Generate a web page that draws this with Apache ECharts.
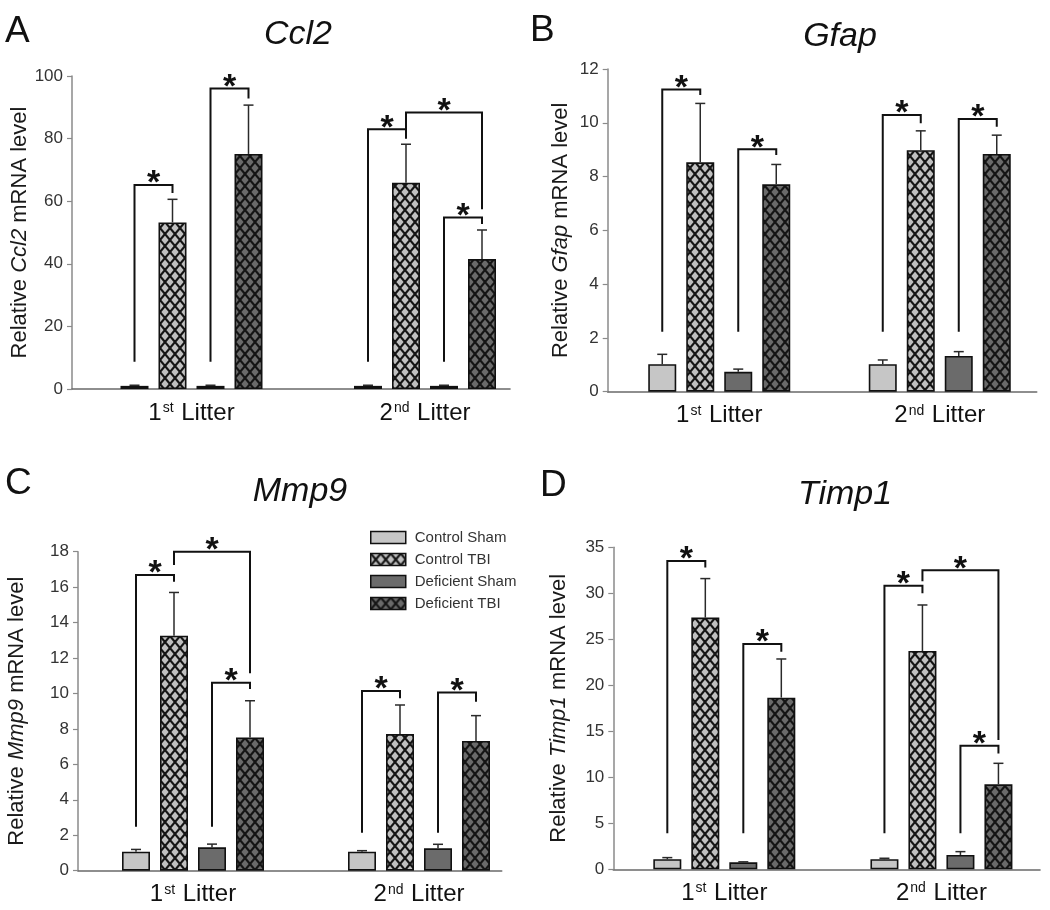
<!DOCTYPE html>
<html>
<head>
<meta charset="utf-8">
<script src="https://cdn.jsdelivr.net/npm/echarts@6/dist/echarts.min.js"></script>
<style>html,body{margin:0;padding:0;background:#fff;}#c{width:1050px;height:910px;}</style>
</head>
<body>
<div id="c"></div>
<script>
// ---------- data ----------
const categories = ['1st Litter', '2nd Litter'];
const seriesNames = ['Control Sham', 'Control TBI', 'Deficient Sham', 'Deficient TBI'];

// Ccl2 (panel A)
const ccl2ControlSham = [1.0, 1.0];
const ccl2ControlTBI = [53.2, 65.9];
const ccl2DeficientSham = [1.0, 1.0];
const ccl2DeficientTBI = [75.1, 41.5];
const ccl2SemControlSham = [0.2, 0.2];
const ccl2SemControlTBI = [7.4, 12.3];
const ccl2SemDeficientSham = [0.2, 0.2];
const ccl2SemDeficientTBI = [15.6, 9.3];
// [group, fromBar, toBar, leftBottom, top, rightBottom]
const ccl2Brackets = [[0,0,1,8.7,65.2,62.6],[0,2,3,8.7,96,92.8],[1,0,1,8.7,83,80],[1,1,3,80,88.3,57.4],[1,2,3,8.7,54.8,52.7]];
const ccl2Ticks = [0, 20, 40, 60, 80, 100];

// Gfap (panel B)
const gfapControlSham = [1.02, 1.02];
const gfapControlTBI = [8.53, 8.98];
const gfapDeficientSham = [0.74, 1.33];
const gfapDeficientTBI = [7.71, 8.84];
const gfapSemControlSham = [0.37, 0.16];
const gfapSemControlTBI = [2.19, 0.72];
const gfapSemDeficientSham = [0.10, 0.16];
const gfapSemDeficientTBI = [0.74, 0.70];
const gfapBrackets = [[0,0,1,2.23,11.24,11.03],[0,2,3,2.23,9.02,8.8],[1,0,1,2.23,10.29,9.98],[1,2,3,2.23,10.14,9.85]];
const gfapTicks = [0, 2, 4, 6, 8, 10, 12];

// Mmp9 (panel C)
const mmp9ControlSham = [1.07, 1.07];
const mmp9ControlTBI = [13.26, 7.71];
const mmp9DeficientSham = [1.32, 1.26];
const mmp9DeficientTBI = [7.52, 7.32];
const mmp9SemControlSham = [0.13, 0.06];
const mmp9SemControlTBI = [2.44, 1.64];
const mmp9SemDeficientSham = [0.18, 0.23];
const mmp9SemDeficientTBI = [2.07, 1.43];
const mmp9Brackets = [[0,0,1,2.48,16.69,16.31],[0,1,3,17.25,18.0,11.14],[0,2,3,2.48,10.61,10.25],[1,0,1,2.14,10.14,9.73],[1,2,3,2.14,10.05,9.54]];
const mmp9Ticks = [0, 2, 4, 6, 8, 10, 12, 14, 16, 18];

// Timp1 (panel D)
const timp1ControlSham = [1.09, 1.09];
const timp1ControlTBI = [27.36, 23.73];
const timp1DeficientSham = [0.76, 1.56];
const timp1DeficientTBI = [18.66, 9.24];
const timp1SemControlSham = [0.18, 0.11];
const timp1SemControlTBI = [4.24, 5.0];
const timp1SemDeficientSham = [0.05, 0.36];
const timp1SemDeficientTBI = [4.2, 2.28];
const timp1Brackets = [[0,0,1,3.91,33.5,32.8],[0,2,3,3.91,24.5,23.66],[1,0,1,3.91,30.83,30.0],[1,1,3,31.3,32.5,14.06],[1,2,3,3.91,13.44,12.6]];
const timp1Ticks = [0, 5, 10, 15, 20, 25, 30, 35];

// ---------- styling / layout ----------
const FONT = '"Liberation Sans", Arial, Helvetica, sans-serif';
const BAR_W = 28, BAR_SPACE = 10, PITCH = BAR_W + BAR_SPACE;

function hatch(bg) {
  const w = 10, h = 12;
  const c = document.createElement('canvas');
  c.width = w; c.height = h;
  const g = c.getContext('2d');
  g.fillStyle = bg; g.fillRect(0, 0, w, h);
  g.strokeStyle = '#151515'; g.lineWidth = 2.1;
  g.beginPath();
  g.moveTo(-w, -h); g.lineTo(2 * w, 2 * h);
  g.moveTo(2 * w, -h); g.lineTo(-w, 2 * h);
  g.stroke();
  return { image: c, repeat: 'repeat' };
}
const fills = ['#c6c6c6', hatch('#c0c0c0'), '#6b6b6b', hatch('#6a6a6a')];

const panels = [
  { letter: 'A', gene: 'Ccl2', vals: [ccl2ControlSham, ccl2ControlTBI, ccl2DeficientSham, ccl2DeficientTBI],
    sems: [ccl2SemControlSham, ccl2SemControlTBI, ccl2SemDeficientSham, ccl2SemDeficientTBI],
    brackets: ccl2Brackets, ticks: ccl2Ticks,
    frame: { l: 72, r: 510, t: 76, b: 389 }, centers: [191.5, 425], nameGap: 36,
    letterPos: [5, 13], titlePos: [298, 18] },
  { letter: 'B', gene: 'Gfap', vals: [gfapControlSham, gfapControlTBI, gfapDeficientSham, gfapDeficientTBI],
    sems: [gfapSemControlSham, gfapSemControlTBI, gfapSemDeficientSham, gfapSemDeficientTBI],
    brackets: gfapBrackets, ticks: gfapTicks,
    frame: { l: 607.7, r: 1036.7, t: 69, b: 391.7 }, centers: [723.5, 952.5], nameGap: 36,
    letterPos: [530, 12], titlePos: [840, 20] },
  { letter: 'C', gene: 'Mmp9', vals: [mmp9ControlSham, mmp9ControlTBI, mmp9DeficientSham, mmp9DeficientTBI],
    sems: [mmp9SemControlSham, mmp9SemControlTBI, mmp9SemDeficientSham, mmp9SemDeficientTBI],
    brackets: mmp9Brackets, ticks: mmp9Ticks,
    frame: { l: 78, r: 501.7, t: 551.7, b: 870.7 }, centers: [193, 419], nameGap: 50,
    letterPos: [5, 465], titlePos: [300, 475] },
  { letter: 'D', gene: 'Timp1', vals: [timp1ControlSham, timp1ControlTBI, timp1DeficientSham, timp1DeficientTBI],
    sems: [timp1SemControlSham, timp1SemControlTBI, timp1SemDeficientSham, timp1SemDeficientTBI],
    brackets: timp1Brackets, ticks: timp1Ticks,
    frame: { l: 613.3, r: 1040, t: 547.3, b: 869.3 }, centers: [731, 961.5], nameGap: 43,
    letterPos: [540, 467], titlePos: [845, 478] }
];

const option = {
  backgroundColor: '#fff',
  animation: false,
  textStyle: { fontFamily: FONT },
  title: [], grid: [], xAxis: [], yAxis: [], series: [],
  legend: {
    data: seriesNames.map(n => ({ name: n, icon: 'rect' })), orient: 'vertical', left: 370, top: 530, padding: 0,
    itemWidth: 35, itemHeight: 12, itemGap: 7,
    textStyle: { fontFamily: FONT, fontSize: 15, color: '#333', padding: [0, 0, 0, 4] },
    itemStyle: { borderColor: '#111', borderWidth: 1.5 },
    selectedMode: false
  }
};

panels.forEach((p, k) => {
  const fi = k * 2, bi = k * 2 + 1;
  const spacing = p.centers[1] - p.centers[0];
  const bl = p.centers[0] - spacing / 2;
  const ymax = p.ticks[p.ticks.length - 1];
  const yint = p.ticks[1] - p.ticks[0];

  option.title.push({ text: p.letter, left: p.letterPos[0], top: p.letterPos[1], padding: 0,
    textStyle: { fontFamily: FONT, fontSize: 37, fontWeight: 'normal', color: '#111' } });
  option.title.push({ text: p.gene, left: p.titlePos[0], top: p.titlePos[1], padding: 0, textAlign: 'center',
    textStyle: { fontFamily: FONT, fontSize: 34, fontWeight: 'normal', fontStyle: 'italic', color: '#111' } });

  option.grid.push({ left: p.frame.l, top: p.frame.t, width: p.frame.r - p.frame.l, height: p.frame.b - p.frame.t, containLabel: false });
  option.grid.push({ left: bl, top: p.frame.t, width: spacing * 2, height: p.frame.b - p.frame.t, containLabel: false });

  option.xAxis.push({ gridIndex: fi, type: 'value', min: 0, max: 1,
    axisLine: { show: true, lineStyle: { color: '#6a6a6a', width: 1.6 } },
    axisTick: { show: false }, axisLabel: { show: false }, splitLine: { show: false } });
  option.xAxis.push({ gridIndex: bi, type: 'category', data: categories,
    axisLine: { show: false }, axisTick: { show: false }, splitLine: { show: false },
    axisLabel: { margin: 12, formatter: (v) => v === '1st Litter' ? '{n|1}{s|st}{n| Litter}' : '{n|2}{s|nd}{n| Litter}',
      rich: { n: { fontFamily: FONT, fontSize: 24, color: '#111' },
              s: { fontFamily: FONT, fontSize: 14, color: '#111', verticalAlign: 'top', padding: [0, 1, 0, 1] } } } });

  option.yAxis.push({ gridIndex: fi, type: 'value', min: 0, max: ymax, interval: yint,
    name: '{n|Relative }{i|' + p.gene + '}{n| mRNA level}', nameLocation: 'middle', nameGap: p.nameGap, nameRotate: 90,
    nameTextStyle: { rich: { n: { fontFamily: FONT, fontSize: 22, color: '#1a1a1a' },
                             i: { fontFamily: FONT, fontSize: 22, fontStyle: 'italic', color: '#1a1a1a' } } },
    axisLine: { show: true, lineStyle: { color: '#8a8a8a', width: 1.5 } },
    axisTick: { show: true, inside: false, length: 5, lineStyle: { color: '#8a8a8a', width: 1.2 } },
    axisLabel: { fontFamily: FONT, fontSize: 17, color: '#333', margin: 9 },
    splitLine: { show: false } });
  option.yAxis.push({ gridIndex: bi, type: 'value', min: 0, max: ymax, interval: yint, show: false, splitLine: { show: false } });

  seriesNames.forEach((name, i) => {
    option.series.push({ name, type: 'bar', xAxisIndex: bi, yAxisIndex: bi, data: p.vals[i],
      barWidth: BAR_W, barGap: (BAR_SPACE / BAR_W * 100) + '%',
      itemStyle: { color: fills[i], borderColor: '#111', borderWidth: 1.6 }, z: 2 });
  });

  const errData = [];
  p.vals.forEach((arr, i) => arr.forEach((v, g) => errData.push([g, v, v + p.sems[i][g], i])));
  option.series.push({ type: 'custom', xAxisIndex: bi, yAxisIndex: bi, data: errData, z: 5, clip: false,
    encode: { x: 0, y: [1, 2] }, silent: true,
    renderItem: (params, api) => {
      const g = api.value(0), i = api.value(3);
      const b = api.coord([g, api.value(1)]);
      const t = api.coord([g, api.value(2)]);
      const x = b[0] + (i - 1.5) * PITCH;
      const st = { stroke: '#2a2a2a', lineWidth: 1.5 };
      return { type: 'group', children: [
        { type: 'line', shape: { x1: x, y1: b[1], x2: x, y2: t[1] }, style: st },
        { type: 'line', shape: { x1: x - 5, y1: t[1], x2: x + 5, y2: t[1] }, style: st } ] };
    } });

  option.series.push({ type: 'custom', xAxisIndex: bi, yAxisIndex: bi, data: p.brackets, z: 6, clip: false,
    encode: { x: 0, y: [3, 4, 5] }, silent: true,
    renderItem: (params, api) => {
      const g = api.value(0), f = api.value(1), to = api.value(2);
      const c0 = api.coord([g, 0]);
      const xL = c0[0] + (f - 1.5) * PITCH, xR = c0[0] + (to - 1.5) * PITCH;
      const yLB = api.coord([g, api.value(3)])[1];
      const yT = api.coord([g, api.value(4)])[1];
      const yRB = api.coord([g, api.value(5)])[1];
      return { type: 'group', children: [
        { type: 'polyline', shape: { points: [[xL, yLB], [xL, yT], [xR, yT], [xR, yRB]] },
          style: { stroke: '#111', lineWidth: 2, fill: null } },
        { type: 'text', x: (xL + xR) / 2, y: yT + 16,
          style: { text: '*', fontFamily: FONT, fontSize: 34, fontWeight: 'bold', fill: '#111',
                   align: 'center', verticalAlign: 'bottom' } } ] };
    } });
});

const chart = echarts.init(document.getElementById('c'), null, { renderer: 'canvas' });
chart.setOption(option);
</script>
</body>
</html>
